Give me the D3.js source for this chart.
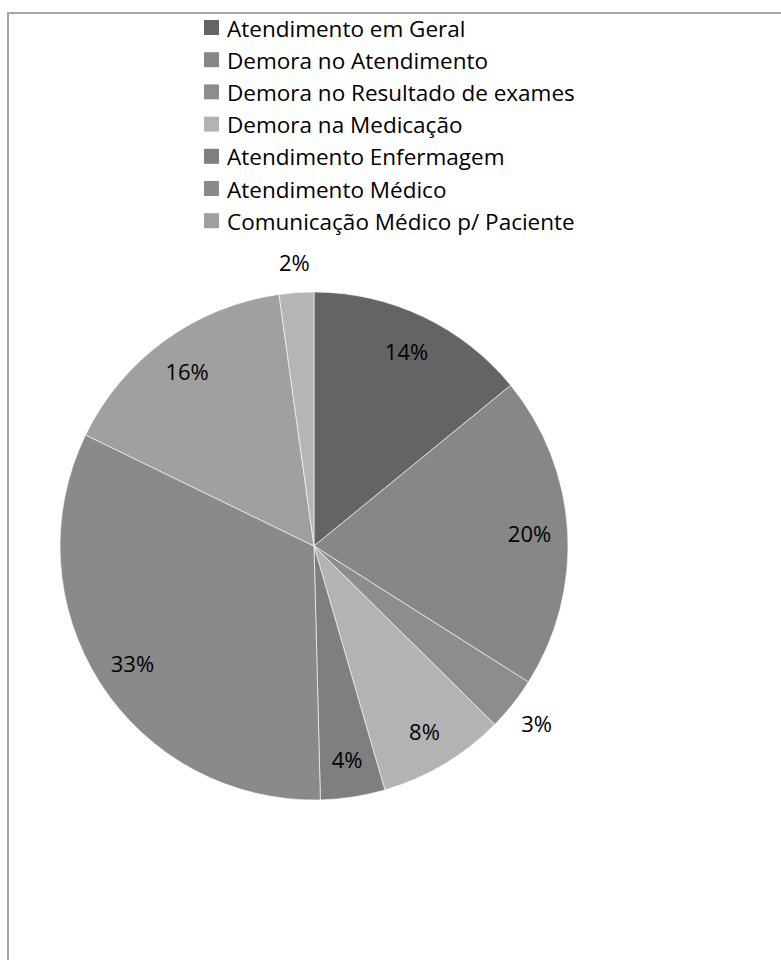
<!DOCTYPE html>
<html>
<head>
<meta charset="utf-8">
<script src="https://cdn.jsdelivr.net/npm/d3@7"></script>
<style>
  body { margin: 0; background: #fff; }
  text { font-family: "Open Sans", "Noto Sans", sans-serif; }
</style>
</head>
<body>
<div id="chart"></div>
<script>
// categories in drawing order (clockwise from 12 o'clock)
var categories = [
  "Atendimento em Geral",
  "Demora no Atendimento",
  "Demora no Resultado de exames",
  "Demora na Medicação",
  "Atendimento Enfermagem",
  "Atendimento Médico",
  "Comunicação Médico p/ Paciente",
  "Outros"
];
var values = [14.1, 19.9, 3.4, 8.1, 4.1, 32.6, 15.6, 2.2];
var labels = ["14%", "20%", "3%", "8%", "4%", "33%", "16%", "2%"];
var colors = ["#646464", "#878787", "#8d8d8d", "#b3b3b3", "#7f7f7f", "#8a8a8a", "#a0a0a0", "#b5b5b5"];
// the legend only shows the first seven entries
var legendCount = 7;

var svg = d3.select("#chart").append("svg")
  .attr("width", 781)
  .attr("height", 960);

// frame of the chart area (runs off the right and bottom)
svg.append("rect")
  .attr("x", 8).attr("y", 13)
  .attr("width", 800).attr("height", 1000)
  .attr("fill", "none")
  .attr("stroke", "#a6a6a6")
  .attr("stroke-width", 2);

var cx = 314, cy = 546, radius = 254;

var pie = d3.pie().sort(null).value(function (d) { return d.value; });
var data = categories.map(function (c, i) {
  return { name: c, value: values[i], label: labels[i], color: colors[i] };
});
var arcs = pie(data);

var arc = d3.arc().innerRadius(0).outerRadius(radius);
var inLabel = d3.arc().innerRadius(radius * 0.85).outerRadius(radius * 0.85);
var outLabel = d3.arc().innerRadius(radius * 1.12).outerRadius(radius * 1.12);

var g = svg.append("g").attr("transform", "translate(" + cx + "," + cy + ")");

g.selectAll("path")
  .data(arcs)
  .enter().append("path")
  .attr("d", arc)
  .attr("fill", function (d) { return d.data.color; })
  .attr("stroke", "#ffffff")
  .attr("stroke-width", 0.6);

g.selectAll(".lbl")
  .data(arcs)
  .enter().append("text")
  .attr("class", "lbl")
  .attr("transform", function (d) {
    var small = d.data.value < 3.5 && d.index !== 4;
    var p = small ? outLabel.centroid(d) : inLabel.centroid(d);
    return "translate(" + p[0] + "," + p[1] + ")";
  })
  .attr("text-anchor", "middle")
  .attr("dominant-baseline", "central")
  .attr("font-size", "22px")
  .attr("fill", "#000")
  .text(function (d) { return d.data.label; });

// legend
var legend = svg.append("g").attr("transform", "translate(204,28)");
var rows = legend.selectAll("g")
  .data(data.slice(0, legendCount))
  .enter().append("g")
  .attr("transform", function (d, i) { return "translate(0," + (i * 32.2) + ")"; });

rows.append("rect")
  .attr("x", 0).attr("y", -8)
  .attr("width", 15).attr("height", 15)
  .attr("fill", function (d) { return d.color; });

rows.append("text")
  .attr("x", 23).attr("y", 0)
  .attr("dominant-baseline", "central")
  .attr("font-size", "22.5px")
  .attr("fill", "#000")
  .text(function (d) { return d.name; });
</script>
</body>
</html>
